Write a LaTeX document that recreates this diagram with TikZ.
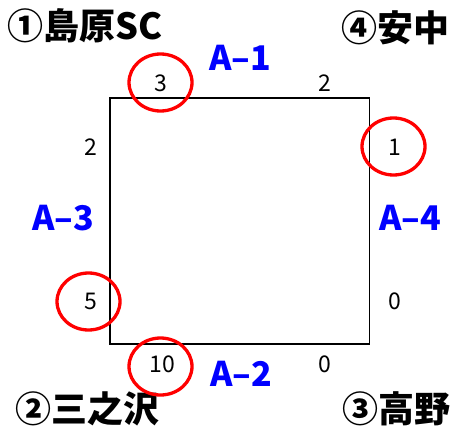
\documentclass[tikz,border=0pt]{standalone}
\usepackage{fontspec}
\setmainfont{Noto Sans CJK JP}
\usetikzlibrary{shapes.geometric,positioning}
\tikzset{team/.style={font=\fontsize{36}{36}\selectfont\bfseries, inner sep=0}}
\tikzset{score/.style={font=\fontsize{23}{23}\selectfont, inner sep=0}}
\tikzset{match/.style={font=\fontsize{34}{34}\selectfont\bfseries, text=blue, inner sep=0}}
\tikzset{winring/.style={draw=red, line width=3.3pt, ellipse, minimum width=63pt, minimum height=57pt, inner sep=0}}
\newcommand{\drawscore}{\node[score]}
\newcommand{\drawring}{\node[winring]}

\begin{document}
\begin{tikzpicture}[x=1pt,y=-1pt]
	\useasboundingbox (0,0) rectangle (452,428);
	
	\node[team] (t1) at (85,26) {①島原SC};
	\node[team] (t4) at (395,28) {④安中};
	\node[team] (t2) at (87,409) {②三之沢};
	\node[team] (t3) at (396,409) {③高野};
	
	\coordinate (nw) at (110,98);
	\coordinate (se) at (369.5,344);
	\draw[line width=1.6pt] (nw) rectangle (se);
	
	\node[match] (a1) at (240,58) {A–1};
	\node[match] (a2) at (241,374) {A–2};
	\node[match] (a3) at (63,218) {A–3};
	\node[match] (a4) at (410,218) {A–4};
	
	\drawscore (s1l) at (161,83) {3};
	\drawscore (s1r) at (325,83) {2};
	\drawscore (s4t) at (395,147) {1};
	\drawscore (s4b) at (395,301) {0};
	\drawscore (s3t) at (91,147) {2};
	\drawscore (s3b) at (91,301) {5};
	\drawscore (s2l) at (162,364) {10};
	\drawscore (s2r) at (325,364) {0};
	
	\drawring (r1) at (160.5,82.5) {};
	\drawring (r4) at (393.5,146.5) {};
	\drawring (r3) at (88.5,301.5) {};
	\drawring (r2) at (160.5,366.5) {};
	
\end{tikzpicture}
\end{document}
